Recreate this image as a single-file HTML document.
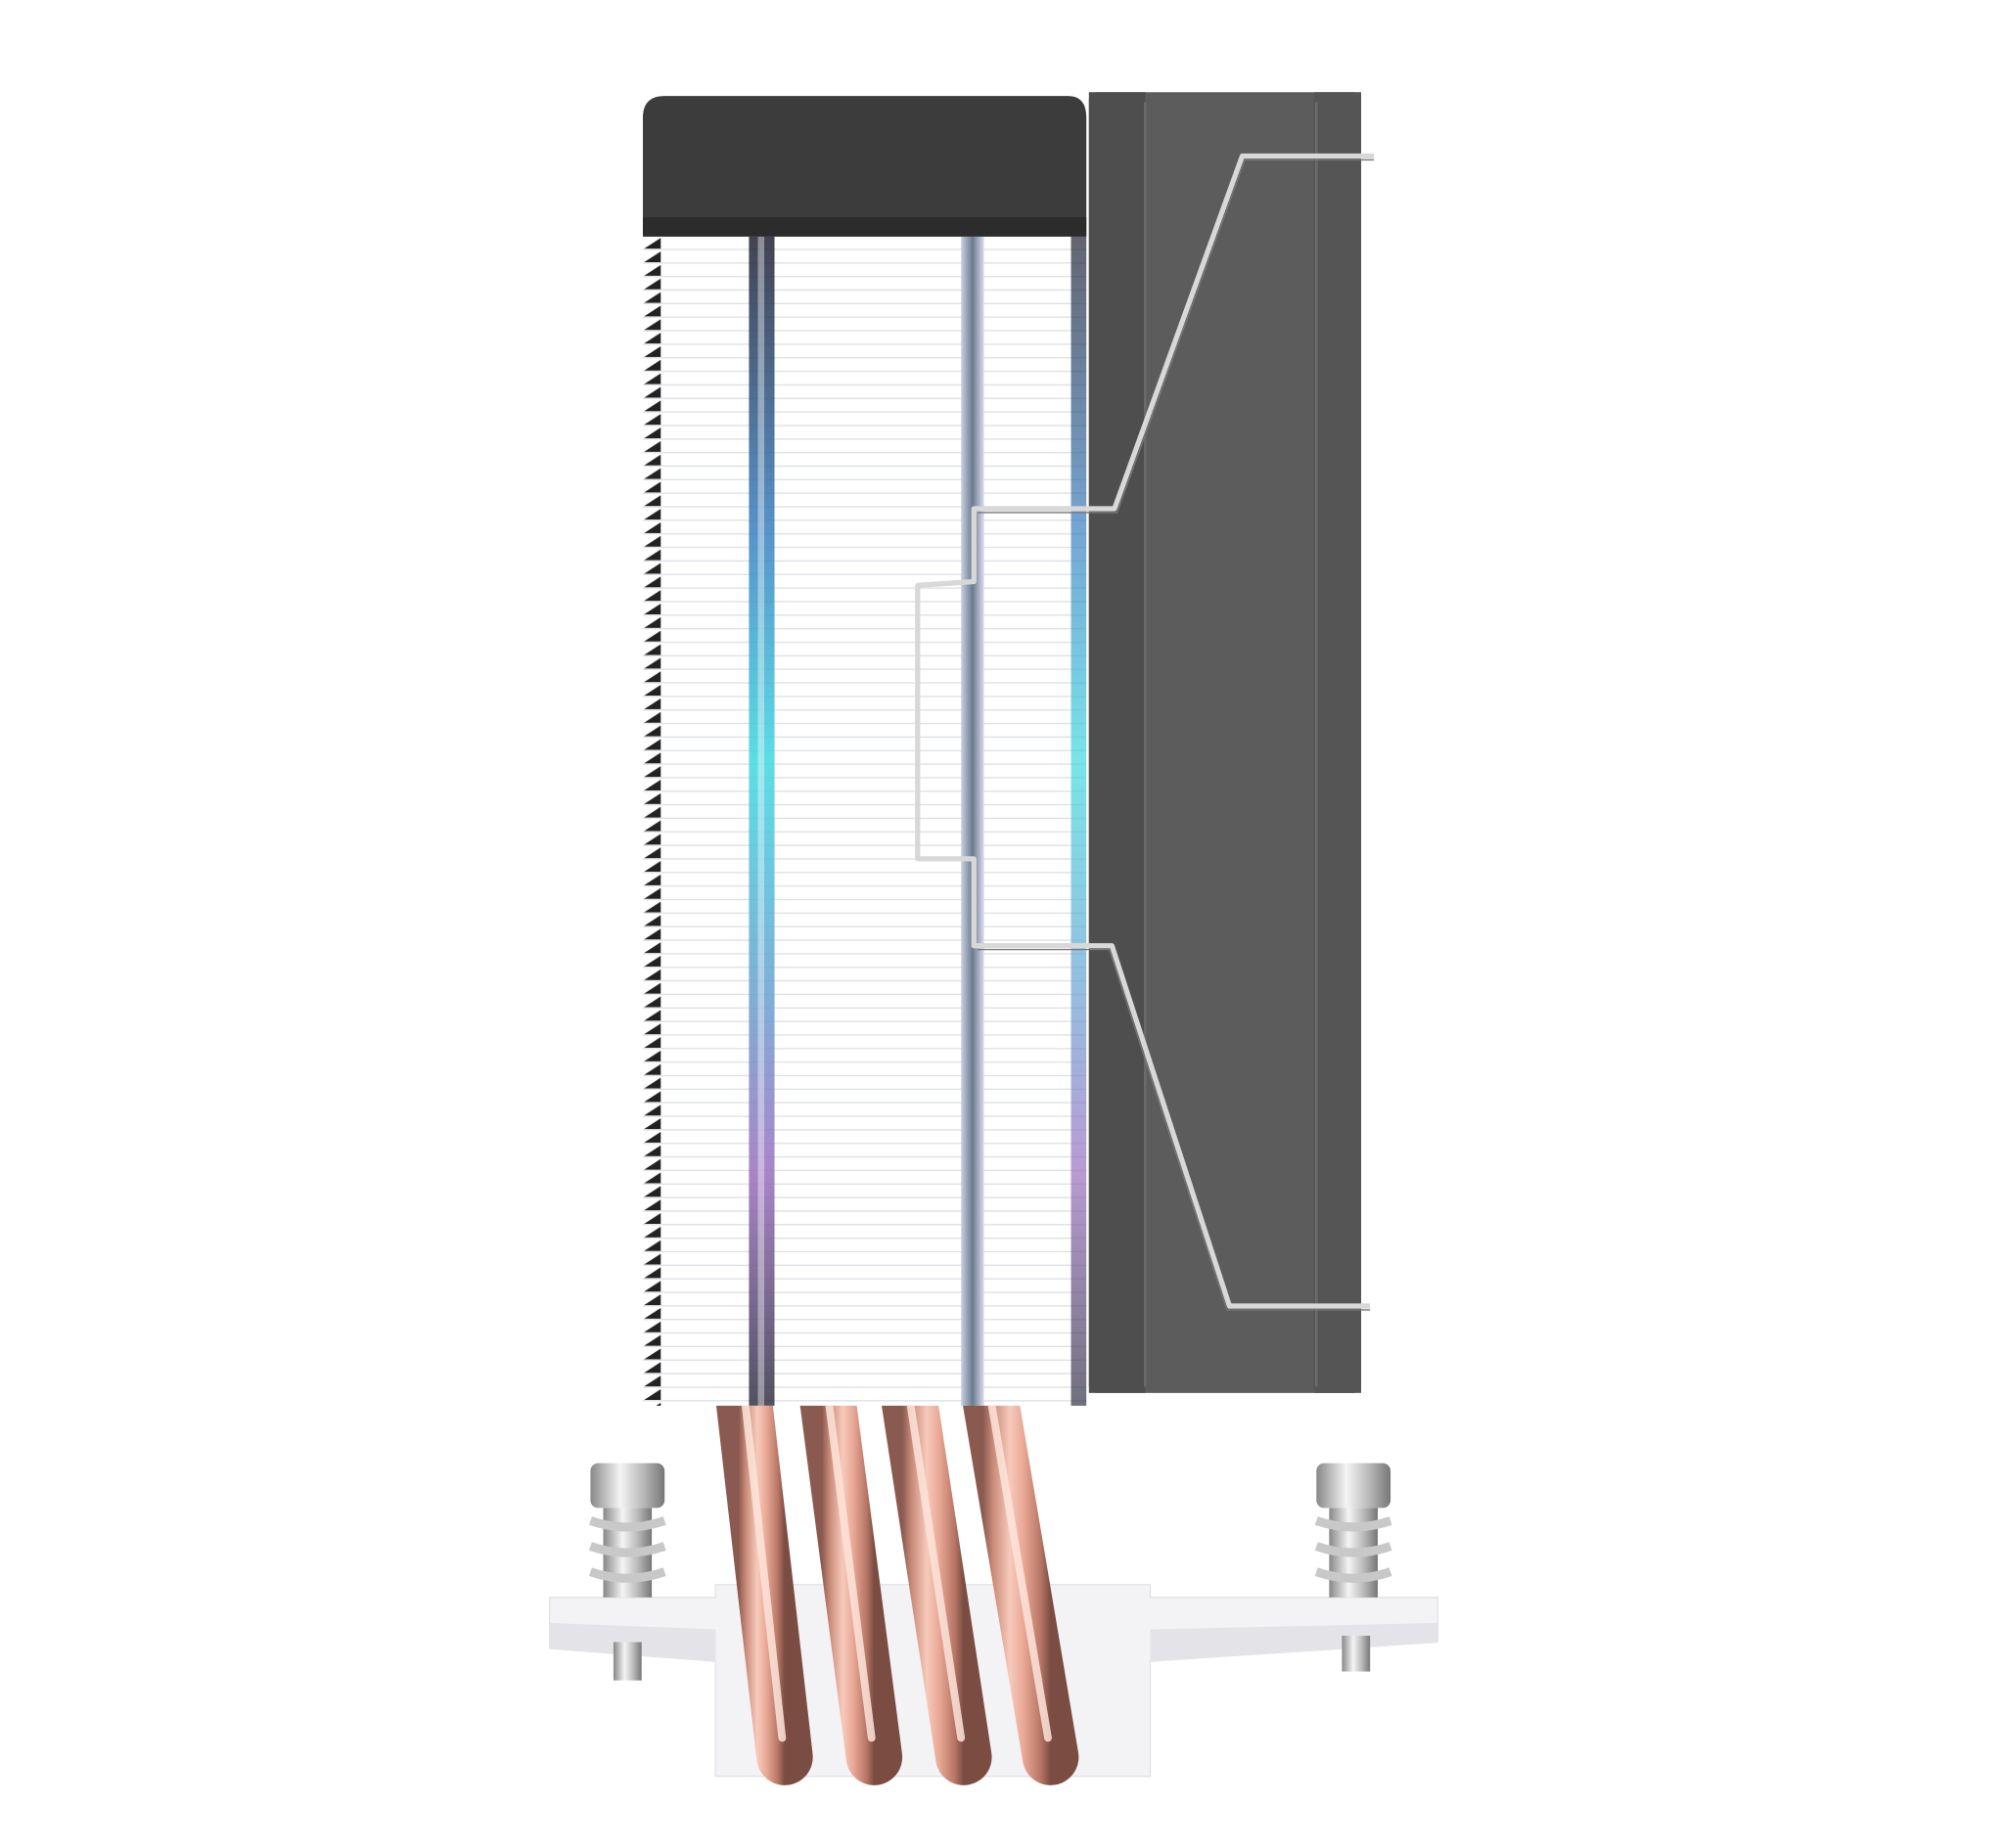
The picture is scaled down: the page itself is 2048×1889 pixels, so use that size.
<!DOCTYPE html>
<html><head><meta charset="utf-8"><style>
html,body{margin:0;padding:0;background:#fff;}
svg{display:block;}
</style></head><body>
<svg width="2048" height="1889" viewBox="0 0 1568 1446" xmlns="http://www.w3.org/2000/svg">
<defs>
<linearGradient id="rgb" x1="0" y1="0" x2="0" y2="1">
<stop offset="0" stop-color="#223"/><stop offset="0.25" stop-color="#3a7fc0"/><stop offset="0.45" stop-color="#40d8e0"/><stop offset="0.65" stop-color="#6aa0d0"/><stop offset="0.8" stop-color="#9a70c0"/><stop offset="1" stop-color="#334"/>
</linearGradient>
<linearGradient id="strip2" x1="0" y1="0" x2="1" y2="0">
<stop offset="0" stop-color="#c8d0e0"/><stop offset="0.5" stop-color="#6a7a90"/><stop offset="1" stop-color="#dde"/>
</linearGradient>
<linearGradient id="cu" x1="0" y1="0" x2="1" y2="0">
<stop offset="0" stop-color="#8a5a50"/><stop offset="0.15" stop-color="#c98a78"/><stop offset="0.4" stop-color="#f7cabb"/><stop offset="0.6" stop-color="#e9a896"/><stop offset="0.85" stop-color="#b87766"/><stop offset="1" stop-color="#7a4c42"/>
</linearGradient>
<linearGradient id="metal" x1="0" y1="0" x2="1" y2="0">
<stop offset="0" stop-color="#888"/><stop offset="0.4" stop-color="#f4f4f4"/><stop offset="0.7" stop-color="#bbb"/><stop offset="1" stop-color="#777"/>
</linearGradient>
<pattern id="fins" x="0" y="185" width="10" height="10.6" patternUnits="userSpaceOnUse">
<rect width="10" height="10.6" fill="#fff"/><rect y="9.6" width="10" height="1" fill="#dcdfe4"/>
</pattern>
<pattern id="saw" x="0" y="185" width="20" height="10.6" patternUnits="userSpaceOnUse">
<polygon points="17,1 17,9.5 4,9.5" fill="#222"/>
</pattern>
<clipPath id="below"><rect x="0" y="1100" width="1568" height="400"/></clipPath>
</defs>
<!-- fan -->
<rect x="852" y="72" width="213" height="1018" rx="6" fill="#5c5c5c"/>
<rect x="852" y="72" width="44" height="1018" fill="#4e4e4e"/>
<rect x="1028" y="72" width="37" height="1018" fill="#555"/>
<line x1="896" y1="80" x2="896" y2="1085" stroke="#6a6a6a" stroke-width="2"/>
<line x1="1030" y1="80" x2="1030" y2="1085" stroke="#6a6a6a" stroke-width="2"/>
<!-- fin stack -->
<rect x="503" y="185" width="347" height="915" fill="url(#fins)"/>
<rect x="503" y="185" width="20" height="915" fill="url(#saw)"/>
<rect x="586" y="185" width="20" height="915" fill="url(#rgb)" opacity="0.85"/>
<rect x="593" y="185" width="5" height="915" fill="#fff" opacity="0.4"/>
<rect x="752" y="185" width="18" height="915" fill="url(#strip2)"/>
<rect x="838" y="185" width="12" height="915" fill="url(#rgb)" opacity="0.7"/>
<!-- top cap -->
<path d="M503,185 L503,92 Q503,75 520,75 L836,75 Q850,75 850,92 L850,185 Z" fill="#3c3c3c"/>
<rect x="503" y="170" width="347" height="15" fill="#2c2c2c"/>
<!-- wire clip -->
<g fill="none" stroke="#d8d8d8" stroke-width="4" stroke-linejoin="round">
<path d="M1075,122 L972,122 L872,398 L762,398 L762,455 L718,458 L718,672 L762,672 L762,740 L870,740 L962,1022 L1072,1022"/>
</g>
<g fill="none" stroke="#777" stroke-width="1">
<path d="M1075,125 L974,125 L874,401 L765,401"/>
<path d="M765,743 L868,743 L960,1025 L1072,1025"/>
</g>
<!-- base plate -->
<path d="M430,1250 L560,1250 L560,1240 L900,1240 L900,1250 L1125,1250 L1125,1285 L900,1300 L900,1390 L560,1390 L560,1300 L430,1290 Z" fill="#f3f3f5" stroke="#e2e2e6"/>
<path d="M430,1270 L560,1275 L560,1300 L430,1290 Z" fill="#e4e4e8"/>
<path d="M900,1275 L1125,1270 L1125,1285 L900,1300 Z" fill="#e4e4e8"/>
<!-- heatpipes -->
<g clip-path="url(#below)">
<g stroke-linecap="round" fill="none">
<path d="M578,1060 L614,1375" stroke="url(#cu)" stroke-width="44"/>
<path d="M643,1060 L684,1375" stroke="url(#cu)" stroke-width="44"/>
<path d="M706,1060 L754,1375" stroke="url(#cu)" stroke-width="44"/>
<path d="M769,1060 L822,1375" stroke="url(#cu)" stroke-width="44"/>
</g>
<g stroke="#fde4da" stroke-width="6" fill="none" opacity="0.85" stroke-linecap="round">
<path d="M580,1070 L612,1360"/><path d="M645,1070 L682,1360"/><path d="M708,1070 L752,1360"/><path d="M771,1070 L820,1360"/>
</g>
</g>
<!-- screws -->
<g>
<rect x="462" y="1145" width="58" height="35" rx="6" fill="url(#metal)"/>
<rect x="472" y="1180" width="38" height="70" fill="url(#metal)"/>
<g fill="none" stroke="#c8c8c8" stroke-width="7"><path d="M462,1190 Q491,1200 520,1190"/><path d="M462,1210 Q491,1220 520,1210"/><path d="M462,1230 Q491,1240 520,1230"/></g>
<rect x="480" y="1285" width="22" height="30" fill="url(#metal)"/>
<rect x="1030" y="1145" width="58" height="35" rx="6" fill="url(#metal)"/>
<rect x="1040" y="1180" width="38" height="70" fill="url(#metal)"/>
<g fill="none" stroke="#c8c8c8" stroke-width="7"><path d="M1030,1190 Q1059,1200 1088,1190"/><path d="M1030,1210 Q1059,1220 1088,1210"/><path d="M1030,1230 Q1059,1240 1088,1230"/></g>
<rect x="1050" y="1280" width="22" height="28" fill="url(#metal)"/>
</g>
</svg>
</body></html>
